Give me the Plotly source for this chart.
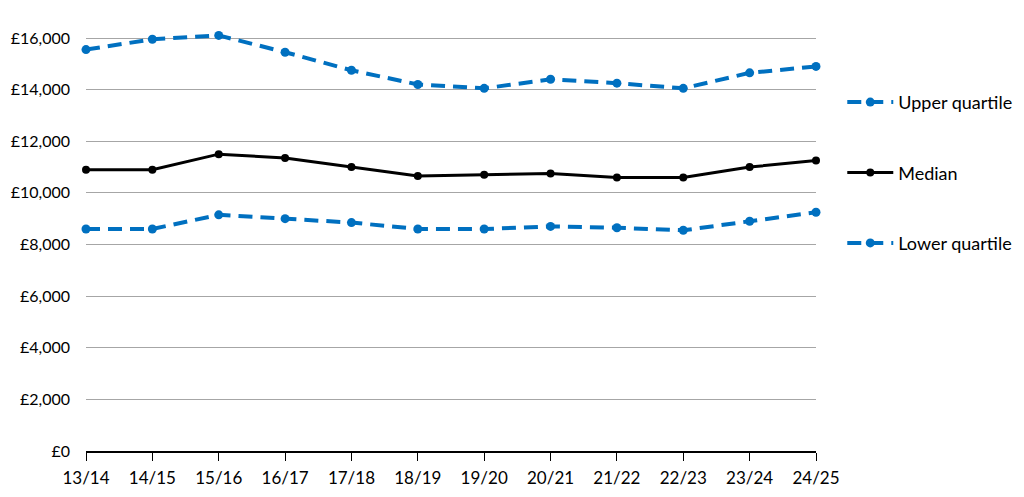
import plotly.graph_objects as go

years = ["13/14", "14/15", "15/16", "16/17", "17/18", "18/19",
         "19/20", "20/21", "21/22", "22/23", "23/24", "24/25"]
upper_quartile = [15550, 15950, 16100, 15450, 14750, 14200,
                  14050, 14400, 14250, 14050, 14650, 14900]
median = [10900, 10900, 11500, 11350, 11000, 10650,
          10700, 10750, 10600, 10600, 11000, 11250]
lower_quartile = [8600, 8600, 9150, 9000, 8850, 8600,
                  8600, 8700, 8650, 8550, 8900, 9250]
y_ticks = [0, 2000, 4000, 6000, 8000, 10000, 12000, 14000, 16000]
y_tick_text = ["£0", "£2,000", "£4,000", "£6,000", "£8,000",
               "£10,000", "£12,000", "£14,000", "£16,000"]

BLUE = "#0070C0"
FONT = "Lato"

fig = go.Figure()
fig.add_trace(go.Scatter(
    x=years, y=upper_quartile, name="Upper quartile", mode="lines+markers",
    line=dict(color=BLUE, width=4, dash="14px,8px"),
    marker=dict(color=BLUE, size=9), cliponaxis=False, legendgroup="u"))
fig.add_trace(go.Scatter(
    x=years, y=median, name="Median", mode="lines+markers",
    line=dict(color="#000000", width=3),
    marker=dict(color="#000000", size=8), cliponaxis=False, legendgroup="m"))
fig.add_trace(go.Scatter(
    x=years, y=lower_quartile, name="Lower quartile", mode="lines+markers",
    line=dict(color=BLUE, width=4, dash="14px,8px"),
    marker=dict(color=BLUE, size=9), cliponaxis=False, legendgroup="l"))

fig.update_layout(
    width=1024, height=497,
    margin=dict(l=78, r=216, t=22, b=54),
    paper_bgcolor="white", plot_bgcolor="white",
    font=dict(family=FONT, size=17, color="#000000"),
    showlegend=True,
    legend=dict(x=1.036, xanchor="left", y=0.872, yanchor="top",
                tracegroupgap=44, traceorder="grouped", itemwidth=46,
                font=dict(family=FONT, size=18, color="#000000"),
                bgcolor="rgba(0,0,0,0)"),
    xaxis=dict(
        type="category", range=[0, 11], showgrid=False, automargin=False,
        showline=True, linecolor="#000000", linewidth=1.5,
        ticks="outside", ticklen=8, tickcolor="#000000", tickwidth=1.2,
        ticklabelstandoff=3,
        tickfont=dict(family=FONT, size=17, color="#000000"),
        zeroline=False, fixedrange=True),
    yaxis=dict(
        range=[0, 16310], tickvals=y_ticks, ticktext=y_tick_text,
        showgrid=True, gridcolor="#A6A6A6", gridwidth=1, automargin=False,
        showline=False, zeroline=False, ticks="",
        ticklabelstandoff=15,
        tickfont=dict(family=FONT, size=16, color="#000000"),
        fixedrange=True),
)

fig.write_html("out.html")
